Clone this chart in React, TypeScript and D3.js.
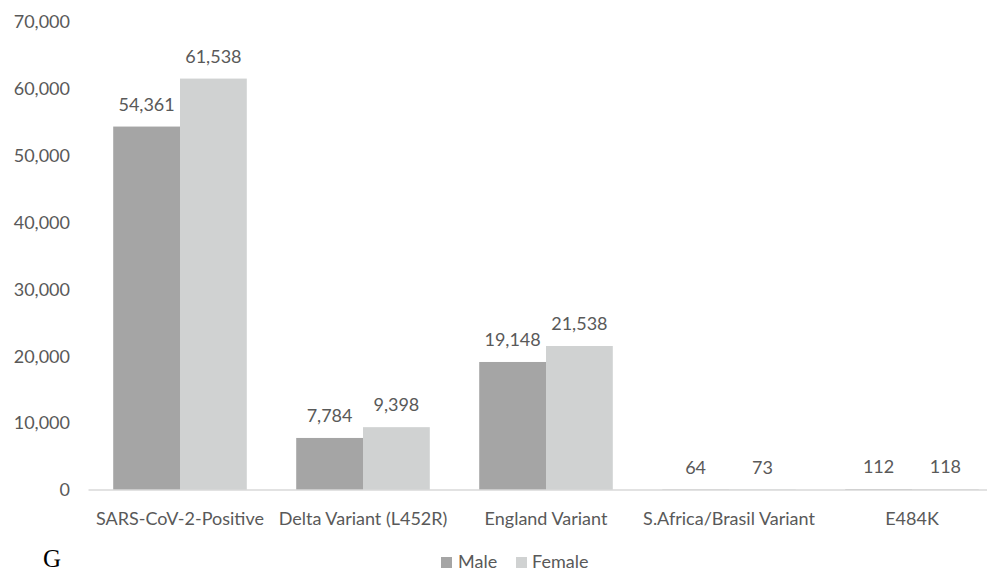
import React from "react";
import * as d3 from "d3";

const categories = [
  "SARS-CoV-2-Positive",
  "Delta Variant (L452R)",
  "England Variant",
  "S.Africa/Brasil Variant",
  "E484K",
];
const maleValues = [54361, 7784, 19148, 64, 112];
const femaleValues = [61538, 9398, 21538, 73, 118];
const seriesNames = ["Male", "Female"];
const yTicks = [0, 10000, 20000, 30000, 40000, 50000, 60000, 70000];

const W = 987;
const H = 571;
const FONT = "Lato, 'Open Sans', sans-serif";
const TEXT = "#595959";
const COLORS = ["#a5a5a5", "#d0d2d2"];

export default function App() {
  const y = d3.scaleLinear().domain([0, 70000]).range([490, 22]);
  const x0 = d3
    .scaleBand<string>()
    .domain(categories)
    .range([88.5, 1003.5])
    .paddingInner(0.27)
    .paddingOuter(0.135);
  const x1 = d3
    .scaleBand<string>()
    .domain(seriesNames)
    .range([0, x0.bandwidth()])
    .padding(0);
  const fmt = d3.format(",");
  const series = [maleValues, femaleValues];

  return (
    <svg
      width={W}
      height={H}
      style={{ position: "absolute", left: 0, top: 0, background: "#fff" }}
      fontFamily={FONT}
    >
      <rect x={0} y={0} width={W} height={H} fill="#fff" />
      {yTicks.map((t) => (
        <text
          key={t}
          x={70}
          y={y(t)}
          dy="0.35em"
          textAnchor="end"
          fontSize={18}
          fill={TEXT}
        >
          {fmt(t)}
        </text>
      ))}
      {categories.map((c, i) => (
        <g key={c} transform={`translate(${x0(c)},0)`}>
          {series.map((vals, s) => {
            const bx = x1(seriesNames[s])!;
            const bw = x1.bandwidth();
            return (
              <g key={s}>
                <rect
                  x={bx}
                  y={y(vals[i])}
                  width={bw}
                  height={y(0) - y(vals[i])}
                  fill={COLORS[s]}
                />
                <text
                  x={bx + bw / 2}
                  y={y(vals[i]) - 16}
                  textAnchor="middle"
                  fontSize={18}
                  fill={TEXT}
                >
                  {fmt(vals[i])}
                </text>
              </g>
            );
          })}
          <text
            x={x0.bandwidth() / 2}
            y={525}
            textAnchor="middle"
            fontSize={18}
            fill={TEXT}
          >
            {c}
          </text>
        </g>
      ))}
      <line x1={88.5} x2={1003.5} y1={y(0)} y2={y(0)} stroke="#d9d9d9" strokeWidth={1.3} />
      <text x={43} y={567} fontFamily="'Liberation Serif', 'DejaVu Serif', serif" fontSize={25} fill="#000">
        G
      </text>
      <g transform="translate(441,568)">
        <rect x={0} y={-11} width={11} height={11} fill={COLORS[0]} />
        <text x={17} y={0} fontSize={18} fill={TEXT}>
          Male
        </text>
        <rect x={75} y={-11} width={11} height={11} fill={COLORS[1]} />
        <text x={91} y={0} fontSize={18} fill={TEXT}>
          Female
        </text>
      </g>
    </svg>
  );
}
